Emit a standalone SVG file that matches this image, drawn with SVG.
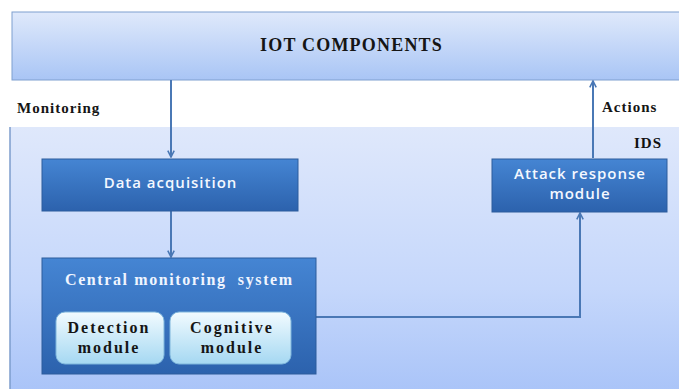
<svg xmlns="http://www.w3.org/2000/svg" width="679" height="389" viewBox="0 0 679 389">
<defs>
<linearGradient id="gTop" x1="0" y1="0" x2="0" y2="1"><stop offset="0" stop-color="#dfe9fb"/><stop offset="1" stop-color="#a9c5f5"/></linearGradient>
<linearGradient id="gIds" x1="0" y1="0" x2="0" y2="1"><stop offset="0" stop-color="#dfe8fb"/><stop offset="0.6" stop-color="#c5d7fb"/><stop offset="1" stop-color="#a8c3f8"/></linearGradient>
<linearGradient id="gDark" x1="0" y1="0" x2="0" y2="1"><stop offset="0" stop-color="#4585d3"/><stop offset="1" stop-color="#2c62ad"/></linearGradient>
<linearGradient id="gLight" x1="0" y1="0" x2="0" y2="1"><stop offset="0" stop-color="#f2fbff"/><stop offset="1" stop-color="#a5d8f2"/></linearGradient>
<marker id="arr" viewBox="0 0 10 10" refX="9" refY="5" markerWidth="8" markerHeight="8" markerUnits="userSpaceOnUse" orient="auto"><path d="M1,1 L9,5 L1,9" fill="none" stroke="#4a78b5" stroke-width="2"/></marker>
</defs>
<style>
.ser{font-family:"Liberation Serif","Times New Roman",serif;font-weight:bold}
.san{font-family:"Open Sans","DejaVu Sans",sans-serif;font-weight:600;fill:#f4f8ff;font-size:15px;letter-spacing:1px}
.dark{fill:url(#gDark);stroke:#2d5c9c;stroke-width:1}
.light{fill:url(#gLight);stroke:#7fb6dc;stroke-width:1}
.conn{stroke:#4a78b5;stroke-width:2;fill:none}
.mod{font-size:16px;letter-spacing:2px;fill:#151515}
</style>
<rect width="679" height="389" fill="#ffffff"/>
<g id="ids">
<rect x="10" y="127" width="680" height="270" fill="url(#gIds)"/>
<line x1="10" y1="127" x2="10" y2="389" stroke="#7d9dcc" stroke-width="1.5"/>
<text class="ser" x="634" y="148" font-size="15" letter-spacing="1" fill="#111">IDS</text>
</g>
<g id="iot">
<rect x="12" y="12" width="680" height="68" fill="url(#gTop)" stroke="#7f9fcf" stroke-width="1"/>
<text class="ser" x="260" y="51" font-size="18" letter-spacing="1.2" fill="#151515">IOT COMPONENTS</text>
</g>
<g id="labels">
<text class="ser" x="17" y="113" font-size="15" letter-spacing="1" fill="#151515">Monitoring</text>
<text class="ser" x="602" y="112" font-size="15" letter-spacing="1" fill="#151515">Actions</text>
</g>
<g id="connectors">
<line class="conn" x1="171" y1="80" x2="171" y2="157" marker-end="url(#arr)"/>
<line class="conn" x1="171" y1="211" x2="171" y2="257" marker-end="url(#arr)"/>
<polyline class="conn" points="316,317 580,317 580,213" marker-end="url(#arr)"/>
<line class="conn" x1="593" y1="158" x2="593" y2="81" marker-end="url(#arr)"/>
</g>
<g id="data-acquisition">
<rect class="dark" x="42" y="159" width="256" height="52"/>
<text class="san" x="170.5" y="188" text-anchor="middle">Data acquisition</text>
</g>
<g id="attack-response">
<rect class="dark" x="492" y="159" width="175" height="53"/>
<text class="san" x="580" y="179" text-anchor="middle">Attack response</text>
<text class="san" x="580" y="199" text-anchor="middle">module</text>
</g>
<g id="central">
<rect class="dark" x="42" y="258" width="274" height="116"/>
<text class="ser" x="65" y="285" font-size="16" letter-spacing="1.6" fill="#f0f5ff">Central monitoring&#160; system</text>
</g>
<g id="detection">
<rect class="light" x="56" y="312" width="108" height="52" rx="9"/>
<text class="ser mod" x="109" y="333" text-anchor="middle">Detection</text>
<text class="ser mod" x="109" y="353" text-anchor="middle">module</text>
</g>
<g id="cognitive">
<rect class="light" x="170" y="312" width="121" height="52" rx="9"/>
<text class="ser mod" x="232" y="333" text-anchor="middle">Cognitive</text>
<text class="ser mod" x="232" y="353" text-anchor="middle">module</text>
</g>
</svg>
